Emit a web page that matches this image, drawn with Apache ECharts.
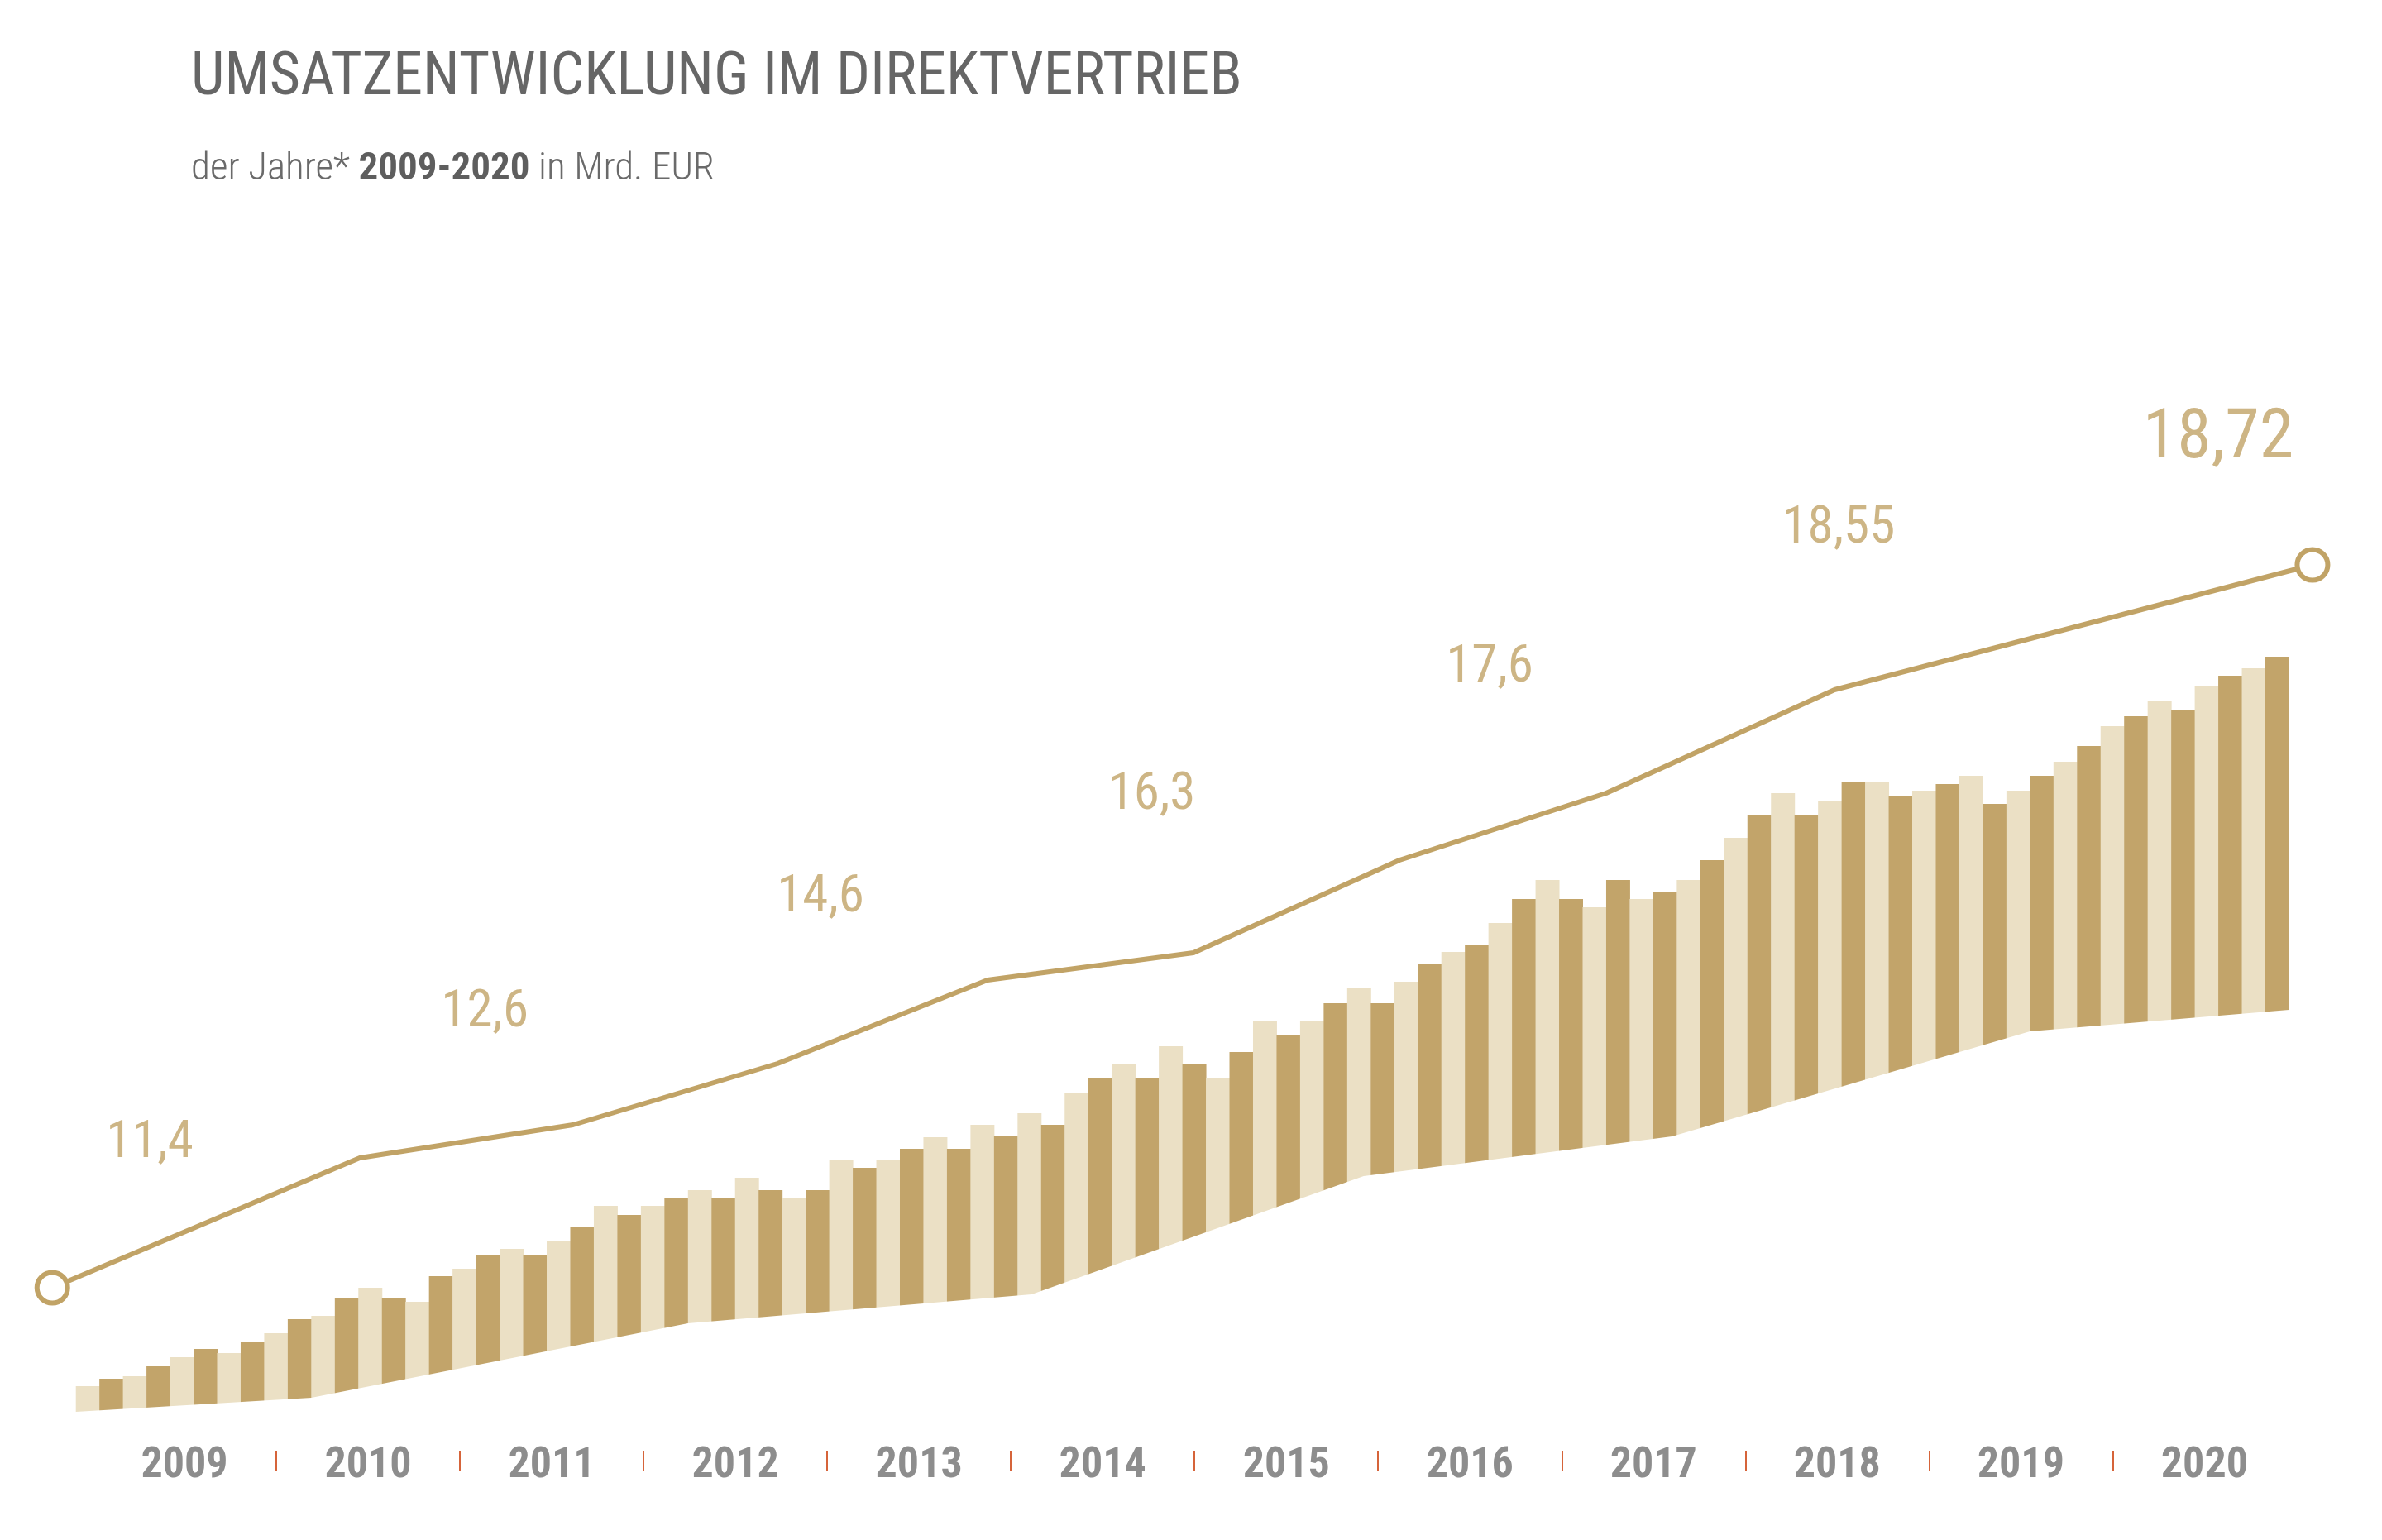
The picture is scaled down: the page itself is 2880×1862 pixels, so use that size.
<!DOCTYPE html>
<html><head><meta charset="utf-8">
<script src="https://cdn.jsdelivr.net/npm/echarts@6/dist/echarts.min.js"></script>
<style>html,body{margin:0;padding:0;background:#fff;}#c{width:2880px;height:1862px;}</style>
</head><body><div id="c"></div>
<script>
// ---- data ----
const years = ['2009','2010','2011','2012','2013','2014','2015','2016','2017','2018','2019','2020'];
// tops of the 94 floating bars (arbitrary chart units)
const barTops = [
 4.4,5.3,5.6,6.8,7.9,8.9,8.4,9.8,10.8,12.5,12.9,15.1,16.3,15.1,14.6,17.7,
 18.6,20.3,21.0,20.3,22.0,23.6,26.2,25.1,26.2,27.2,28.1,27.2,29.6,28.1,
 27.2,28.1,31.7,30.8,31.7,33.1,34.5,33.1,36.0,34.6,37.4,36.0,39.8,41.7,43.3,41.7,
 45.5,43.3,41.7,44.8,48.5,46.9,48.5,50.7,52.6,50.7,53.3,55.4,56.9,57.8,60.4,63.3,
 65.6,63.3,62.3,65.6,63.3,64.2,65.6,68.0,70.7,73.5,76.1,73.5,75.2,77.5,77.5,
 75.7,76.4,77.2,78.2,74.8,76.4,78.2,79.9,81.8,84.2,85.4,87.3,86.1,89.1,90.3,91.2,92.6
];
// sloped lower edge of the bar band
const baseX = [0, 10, 26, 40.6, 54.7, 67.8, 83, 94];
const baseY = [1.3, 3.0, 12.0, 15.5, 29.8, 34.6, 47.3, 49.9];
// trend line
const trendX = [-1, 12.06, 21.12, 29.8, 38.72, 47.47, 56.22, 65.0, 74.7, 95];
const trendY = [16.3, 32.0, 36.0, 43.4, 53.5, 56.8, 68.0, 76.1, 88.6, 103.7];
// value annotations
const valueLabels = ['11,4','12,6','14,6','16,3','17,6','18,55','18,72'];
const labelX = [3.14, 17.37, 31.63, 45.7, 60.05, 74.87, 91.0];
const labelY = [33.7, 49.5, 63.4, 75.8, 91.2, 108.0, 118.8];

// ---- styling ----
const FONT = "'Roboto Condensed','Liberation Sans Narrow','Arial Narrow','DejaVu Sans Condensed',Roboto,sans-serif";
const GOLD = '#c1a366', DARK = '#c2a46a', LIGHT = '#ebe0c5';

const chart = echarts.init(document.getElementById('c'), null, {renderer:'canvas'});

const maskData = [[baseX[0]-0.3, baseY[0]]].concat(baseX.map((x,i)=>[x, baseY[i]]))
  .concat([[baseX[baseX.length-1]+0.3, baseY[baseY.length-1]]]);

chart.setOption({
  animation:false,
  backgroundColor:'#fff',
  title:[
    {text:'UMSATZENTWICKLUNG IM DIREKTVERTRIEB', left:231, top:60, padding:0,
     textStyle:{fontFamily:FONT, fontSize:72, fontWeight:'normal', color:'#666666'}},
    {text:'{a|der Jahre* }{b|2009-2020}{a| in Mrd. EUR}', left:231, top:182, padding:0,
     textStyle:{rich:{
       a:{fontFamily:FONT, fontSize:47, fontWeight:300, color:'#6a6a6a'},
       b:{fontFamily:FONT, fontSize:47, fontWeight:'bold', color:'#5e5e5e'}
     }}}
  ],
  grid:[
    {left:34.77, right:55.6, top:420, bottom:142},
    {left:112, right:103.6, top:1754, height:24}
  ],
  xAxis:[
    {type:'value', gridIndex:0, min:-2, max:96, show:false},
    {type:'category', gridIndex:1, data:years, boundaryGap:true,
     axisLine:{show:false}, axisTick:{show:false},
     splitLine:{show:true, interval:0, showMinLine:false, showMaxLine:false,
       lineStyle:{color:'#d6643a', width:2}},
     axisLabel:{interval:0, margin:-5, verticalAlign:'middle', fontFamily:FONT,
       fontSize:52, fontWeight:'bold', color:'#8d8d8d'}}
  ],
  yAxis:[
    {type:'value', gridIndex:0, min:0, max:130, show:false},
    {type:'value', gridIndex:1, show:false}
  ],
  series:[
    {type:'custom', xAxisIndex:0, yAxisIndex:0, z:1,
     data: barTops.map((v,i)=>[i, v]),
     renderItem:(params, api)=>{
       const i = api.value(0), v = api.value(1);
       const p1 = api.coord([i, v]), p2 = api.coord([i+1, 0]);
       return {type:'rect', shape:{x:p1[0], y:p1[1], width:p2[0]-p1[0]+0.5, height:p2[1]-p1[1]},
               style:{fill: (i % 2) ? DARK : LIGHT}};
     }},
    {type:'line', xAxisIndex:0, yAxisIndex:0, z:5, data:maskData, symbol:'none', silent:true,
     lineStyle:{width:0, color:'#fff'}, areaStyle:{color:'#ffffff', opacity:1}},
    {type:'line', xAxisIndex:0, yAxisIndex:0, z:8, clip:false,
     data: trendX.map((x,i)=>({value:[x, trendY[i]],
        symbol:(i===0||i===trendX.length-1)?'circle':'none'})),
     showSymbol:true, symbolSize:37,
     lineStyle:{color:GOLD, width:6},
     itemStyle:{color:'#ffffff', borderColor:GOLD, borderWidth:6}},
    {type:'scatter', xAxisIndex:0, yAxisIndex:0, z:9, symbolSize:1,
     itemStyle:{color:'transparent'},
     data: labelX.map((x,i)=>({value:[x, labelY[i]],
        label:{fontSize: i===labelX.length-1 ? 84 : 63}})),
     label:{show:true, position:'inside', fontFamily:FONT, color:GOLD,
        formatter:(p)=>valueLabels[p.dataIndex]}}
  ]
});
</script></body></html>
